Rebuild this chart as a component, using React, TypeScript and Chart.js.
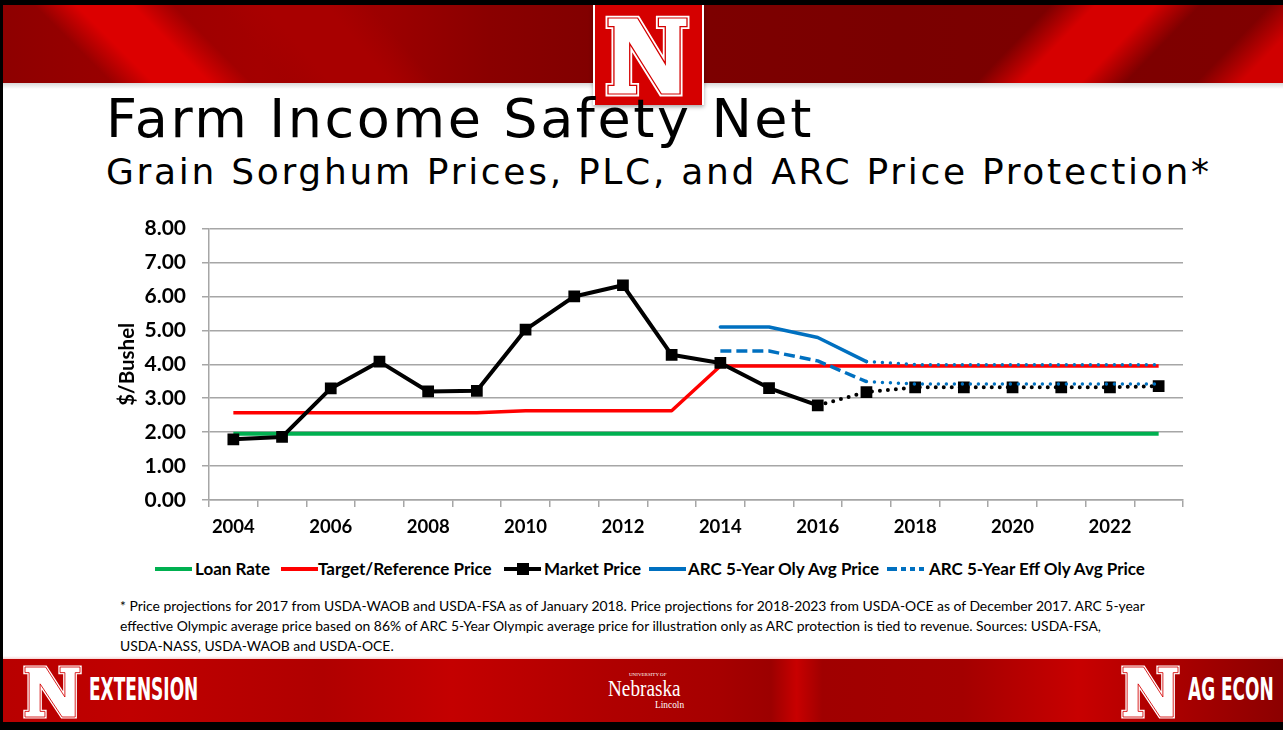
import React, { useEffect, useRef } from 'react';
import { Chart, registerables } from 'chart.js';

Chart.register(...registerables);

const years = ['2004', '2005', '2006', '2007', '2008', '2009', '2010', '2011', '2012', '2013', '2014', '2015', '2016', '2017', '2018', '2019', '2020', '2021', '2022', '2023'];
const loanRate = [1.95, 1.95, 1.95, 1.95, 1.95, 1.95, 1.95, 1.95, 1.95, 1.95, 1.95, 1.95, 1.95, 1.95, 1.95, 1.95, 1.95, 1.95, 1.95, 1.95];
const targetPrice = [2.57, 2.57, 2.57, 2.57, 2.57, 2.57, 2.63, 2.63, 2.63, 2.63, 3.95, 3.95, 3.95, 3.95, 3.95, 3.95, 3.95, 3.95, 3.95, 3.95];
const marketPrice = [1.79, 1.86, 3.29, 4.08, 3.20, 3.22, 5.02, 6.00, 6.33, 4.28, 4.04, 3.30, 2.79, 3.18, 3.32, 3.32, 3.32, 3.32, 3.32, 3.36];
const arcOlyAvg = [null, null, null, null, null, null, null, null, null, null, 5.10, 5.10, 4.79, 4.08, 3.99, 3.99, 3.99, 3.99, 3.99, 3.99];
const arcEffOlyAvg = [null, null, null, null, null, null, null, null, null, null, 4.39, 4.39, 4.10, 3.49, 3.42, 3.42, 3.42, 3.42, 3.42, 3.42];
const yTicks = [0, 1, 2, 3, 4, 5, 6, 7, 8];

const marketProjectionStart = 12; // segment index from which projections are dotted
const arcProjectionStart = 13;

const FONT = 'Lato, "Open Sans", sans-serif';
const CONDENSED = '"Liberation Sans Narrow", "DejaVu Sans Condensed", sans-serif';

const legendItems = [
  { label: 'Loan Rate', color: '#00b050', kind: 'solid', lx: 155, tx: 195 },
  { label: 'Target/Reference Price', color: '#ff0000', kind: 'solid', lx: 281, tx: 318 },
  { label: 'Market Price', color: '#000000', kind: 'marker', lx: 504, tx: 544 },
  { label: 'ARC 5-Year Oly Avg Price', color: '#0070c0', kind: 'solid', lx: 649, tx: 688 },
  { label: 'ARC 5-Year Eff Oly Avg Price', color: '#0070c0', kind: 'dash', lx: 887, tx: 929 },
];

const footnoteLines = [
  '* Price projections for 2017 from USDA-WAOB and USDA-FSA as of January 2018. Price projections for 2018-2023 from USDA-OCE as of December 2017. ARC 5-year',
  'effective Olympic average price based on 86% of ARC 5-Year Olympic average price for illustration only as ARC protection is tied to revenue. Sources: USDA-FSA,',
  'USDA-NASS, USDA-WAOB and USDA-OCE.',
];

const N_POINTS = '0,0 30,0 58,48 58,9 51,9 51,0 80,0 80,9 73,9 73,80 54,80 22,27 22,71 29,71 29,80 0,80 0,71 6,71 6,9 0,9';

function NLogo({ left, top, width, height }: { left: number; top: number; width: number; height: number }) {
  return (
    <svg style={{ position: 'absolute', left, top, overflow: 'visible' }} width={width} height={height} viewBox="0 0 80 80" preserveAspectRatio="none">
      <polygon points={N_POINTS} fill="#ffffff" stroke="#ffffff" strokeWidth={5} strokeLinejoin="miter" />
      <polygon points={N_POINTS} fill="#ffffff" stroke="#d40000" strokeWidth={1.3} strokeLinejoin="miter" />
    </svg>
  );
}

function ChartCanvas() {
  const ref = useRef<HTMLCanvasElement | null>(null);
  useEffect(() => {
    if (!ref.current) return;
    const gridColor = '#a6a6a6';
    const chart = new Chart(ref.current, {
      type: 'line',
      data: {
        labels: years,
        datasets: [
          {
            label: 'Loan Rate', data: loanRate, borderColor: '#00b050', backgroundColor: '#00b050',
            borderWidth: 4, pointRadius: 0, order: 5, borderCapStyle: 'butt',
          },
          {
            label: 'Target/Reference Price', data: targetPrice, borderColor: '#ff0000', backgroundColor: '#ff0000',
            borderWidth: 3.5, pointRadius: 0, order: 4, borderJoinStyle: 'round',
          },
          {
            label: 'Market Price', data: marketPrice, borderColor: '#000000', backgroundColor: '#000000',
            borderWidth: 4, pointStyle: 'rect', pointRadius: 8.3, pointBorderWidth: 0,
            pointBackgroundColor: '#000000', order: 3, borderJoinStyle: 'round',
            segment: {
              borderDash: (ctx: any) => (ctx.p0DataIndex >= marketProjectionStart ? [0, 8] : []),
              borderCapStyle: (ctx: any) => (ctx.p0DataIndex >= marketProjectionStart ? 'round' : 'butt'),
            },
          },
          {
            label: 'ARC 5-Year Oly Avg Price', data: arcOlyAvg, borderColor: '#0070c0', backgroundColor: '#0070c0',
            borderWidth: 3.5, pointRadius: 0, order: 2, borderJoinStyle: 'round', borderCapStyle: 'round',
            segment: {
              borderDash: (ctx: any) => (ctx.p0DataIndex >= arcProjectionStart ? [0, 8] : []),
            },
          },
          {
            label: 'ARC 5-Year Eff Oly Avg Price', data: arcEffOlyAvg, borderColor: '#0070c0', backgroundColor: '#0070c0',
            borderWidth: 3.5, pointRadius: 0, order: 1, borderJoinStyle: 'round',
            segment: {
              borderDash: (ctx: any) => (ctx.p0DataIndex >= arcProjectionStart ? [0, 8] : [11, 5]),
              borderCapStyle: (ctx: any) => (ctx.p0DataIndex >= arcProjectionStart ? 'round' : 'butt'),
            },
          },
        ],
      },
      options: {
        responsive: false,
        maintainAspectRatio: false,
        animation: false,
        events: [],
        layout: { padding: { top: 19, right: 17, left: 0, bottom: 0 } },
        plugins: { legend: { display: false }, tooltip: { enabled: false }, title: { display: false } },
        scales: {
          x: {
            type: 'category',
            offset: true,
            grid: { offset: true, drawOnChartArea: false, drawTicks: true, tickLength: 7, color: gridColor, lineWidth: 1.5 },
            border: { color: gridColor, width: 1.5 },
            ticks: {
              autoSkip: false, maxRotation: 0, minRotation: 0, padding: 9, color: '#000000',
              font: { family: FONT, weight: 'bold', size: 18.5 },
              callback: (_v: any, i: number) => (i % 2 === 0 ? years[i] : ''),
            },
            afterFit: (s: any) => { s.height = 50; },
          },
          y: {
            min: 0, max: 8,
            afterBuildTicks: (s: any) => { s.ticks = yTicks.map((v) => ({ value: v })); },
            grid: { color: gridColor, lineWidth: 1.5, tickLength: 7, drawTicks: true },
            border: { color: gridColor, width: 1.5 },
            ticks: {
              padding: 16, color: '#000000',
              font: { family: FONT, weight: 'bold', size: 21 },
              callback: (v: any) => Number(v).toFixed(2),
            },
            title: {
              display: true, text: '$/Bushel', color: '#000000',
              font: { family: FONT, weight: 'bold', size: 20.5 },
              padding: { top: 15, bottom: 0 },
            },
            afterFit: (s: any) => { s.width = 109; },
          },
        },
      },
    } as any);
    return () => chart.destroy();
  }, []);
  return <canvas ref={ref} width={1100} height={350} style={{ position: 'absolute', left: 100, top: 200, width: 1100, height: 350 }} />;
}

function Streak({ left, width, top, height, skew, color }: any) {
  return (
    <div style={{
      position: 'absolute', left, top, width, height,
      transform: `skewX(${skew}deg)`,
      background: `linear-gradient(90deg, rgba(0,0,0,0) 0%, ${color} 30%, ${color} 70%, rgba(0,0,0,0) 100%)`,
    }} />
  );
}

export default function App() {
  return (
    <div style={{ position: 'fixed', left: 0, top: 0, width: 1283, height: 730, background: '#000', overflow: 'hidden' }}>
      <div style={{ position: 'absolute', left: 3, top: 5, width: 1280, height: 717, background: '#fff', overflow: 'hidden' }}>
        {/* header banner */}
        <div style={{ position: 'absolute', left: 0, top: 0, width: 1280, height: 78, overflow: 'hidden',
          background: 'linear-gradient(90deg, #8e0000 0%, #960000 6%, #a40000 20%, #9c0000 30%, #8a0000 38%, #7e0000 50%, #7a0000 70%, #800000 100%)' }}>
          <Streak left={70} width={140} top={0} height={78} skew={45} color="#dc0000" />
          <Streak left={250} width={150} top={0} height={78} skew={40} color="#a80000" />
          <Streak left={1010} width={150} top={0} height={78} skew={-44} color="#d60000" />
          <Streak left={1230} width={150} top={0} height={78} skew={-44} color="#d00000" />
        </div>
        <div style={{ position: 'absolute', left: 0, top: 78, width: 1280, height: 6, background: 'linear-gradient(180deg, #d9d9d9, #ffffff)' }} />
        {/* N box */}
        <div style={{ position: 'absolute', left: 590, top: 0, width: 107, height: 100, background: '#d50000',
          borderLeft: '2px solid #fff', borderRight: '2px solid #fff', boxShadow: '0 2px 4px rgba(0,0,0,0.35)' }}>
          <NLogo left={13} top={13} width={79} height={76} />
        </div>
        {/* titles */}
        <div style={{ position: 'absolute', left: 103, top: 83, fontFamily: '"DejaVu Sans", sans-serif', fontSize: 54, letterSpacing: 2.6, color: '#000', whiteSpace: 'nowrap', lineHeight: '62px' }}>
          Farm Income Safety Net
        </div>
        <div style={{ position: 'absolute', left: 103, top: 146, fontFamily: '"DejaVu Sans", sans-serif', fontSize: 36, letterSpacing: 2.7, color: '#000', whiteSpace: 'nowrap', lineHeight: '42px' }}>
          Grain Sorghum Prices, PLC, and ARC Price Protection*
        </div>
        {/* footer */}
        <div style={{ position: 'absolute', left: 0, top: 651, width: 1280, height: 3, background: 'linear-gradient(180deg, #ffffff, #f6d6d6)' }} />
        <div style={{ position: 'absolute', left: 0, top: 654, width: 1280, height: 63, overflow: 'hidden',
          background: 'linear-gradient(90deg, #b80000 0%, #c00000 10%, #b00000 25%, #c40000 35%, #b00000 47%, #a60000 56%, #9c0000 60%, #c80000 62%, #a00000 64%, #a40000 75%, #c80000 84%, #a80000 92%, #8c0000 100%)' }}>
          <NLogo left={22} top={8} width={55} height={50} />
          <div style={{ position: 'absolute', left: 86, top: 11, fontFamily: CONDENSED, fontWeight: 'bold', fontSize: 32, color: '#fff', transform: 'scaleX(0.59)', transformOrigin: 'left top', lineHeight: '38px', whiteSpace: 'nowrap' }}>EXTENSION</div>
          <div style={{ position: 'absolute', left: 626, top: 13, fontFamily: '"Liberation Serif", serif', fontSize: 5, color: '#fff', lineHeight: '6px', whiteSpace: 'nowrap' }}>UNIVERSITY OF</div>
          <div style={{ position: 'absolute', left: 605, top: 16, fontFamily: '"Liberation Serif", serif', fontSize: 24, color: '#fff', transform: 'scaleX(0.8)', transformOrigin: 'left top', lineHeight: '26px', whiteSpace: 'nowrap' }}>Nebraska</div>
          <div style={{ position: 'absolute', left: 652, top: 39, fontFamily: '"Liberation Serif", serif', fontSize: 11, color: '#fff', transform: 'scaleX(0.85)', transformOrigin: 'left top', lineHeight: '12px', whiteSpace: 'nowrap' }}>Lincoln</div>
          <NLogo left={1120} top={8} width={55} height={50} />
          <div style={{ position: 'absolute', left: 1185, top: 11, fontFamily: CONDENSED, fontWeight: 'bold', fontSize: 32, color: '#fff', transform: 'scaleX(0.59)', transformOrigin: 'left top', lineHeight: '38px', whiteSpace: 'nowrap' }}>AG ECON</div>
        </div>
        {/* footnote */}
        <div style={{ position: 'absolute', left: 117, top: 591, fontFamily: FONT, fontSize: 13.9, color: '#000', lineHeight: '20px', whiteSpace: 'nowrap' }}>
          {footnoteLines.map((l, i) => <div key={i}>{l}</div>)}
        </div>
      </div>
      {/* chart */}
      <ChartCanvas />
      {/* legend */}
      {legendItems.map((it) => (
        <div key={it.label}>
          <svg style={{ position: 'absolute', left: it.lx, top: 561 }} width={38} height={16}>
            {it.kind === 'dash' ? (
              <line x1={0} y1={8} x2={37} y2={8} stroke={it.color} strokeWidth={4} strokeDasharray="10 4 5 4 5 4" />
            ) : (
              <line x1={0} y1={8} x2={37} y2={8} stroke={it.color} strokeWidth={4} />
            )}
            {it.kind === 'marker' ? <rect x={13} y={2} width={12} height={12} fill="#000" /> : null}
          </svg>
          <div style={{ position: 'absolute', left: it.tx, top: 558, fontFamily: FONT, fontWeight: 'bold', fontSize: 17, color: '#000', whiteSpace: 'nowrap', lineHeight: '22px' }}>{it.label}</div>
        </div>
      ))}
    </div>
  );
}
